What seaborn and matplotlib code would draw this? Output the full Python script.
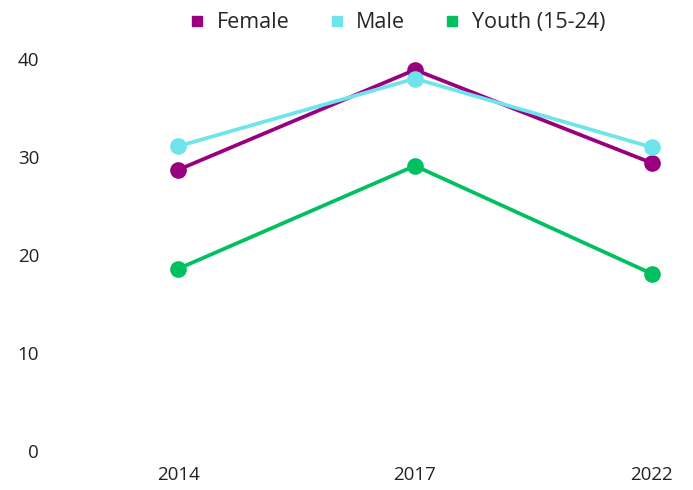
import pandas as pd
import matplotlib.pyplot as plt
import seaborn as sns
from matplotlib.lines import Line2D

# Donnees
years = ["2014", "2017", "2022"]
female = [28.7, 38.9, 29.4]
male = [31.1, 38.0, 31.0]
youth = [18.6, 29.1, 18.1]
series = ["Female", "Male", "Youth (15-24)"]
colors = ["#990080", "#6EE4EB", "#00C060"]

df = pd.DataFrame({
    "year": years * 3,
    "value": female + male + youth,
    "group": [series[0]] * 3 + [series[1]] * 3 + [series[2]] * 3,
})

sns.set_style("white")
plt.rcParams["font.family"] = ["Open Sans", "DejaVu Sans"]

fig = plt.figure(figsize=(6.93, 4.9), dpi=100)
ax = fig.add_axes([60 / 693, 39 / 490, 620 / 693, 392 / 490])

sns.lineplot(data=df, x="year", y="value", hue="group", hue_order=series,
             palette=colors, marker="o", markersize=12, markeredgewidth=0,
             linewidth=2.7, ax=ax, legend=False, clip_on=False)

ax.set_xlim(-0.5, 2.12)
ax.set_ylim(0, 40)
ax.set_yticks([0, 10, 20, 30, 40])
ax.set_xlabel("")
ax.set_ylabel("")
ax.tick_params(axis="both", length=0, labelsize=13.5, colors="#222222")
ax.tick_params(axis="y", pad=15)
ax.tick_params(axis="x", pad=11)
for s in ax.spines.values():
    s.set_visible(False)

handles = [Line2D([], [], linestyle="none", marker="s", markersize=7,
                  color=c) for c in colors]
fig.legend(handles, series, loc="center", bbox_to_anchor=(0.571, 0.954),
           ncol=3, frameon=False, fontsize=15.5, handletextpad=0.4,
           columnspacing=1.7, handlelength=1.0)

fig.savefig("out.png", dpi=100)
